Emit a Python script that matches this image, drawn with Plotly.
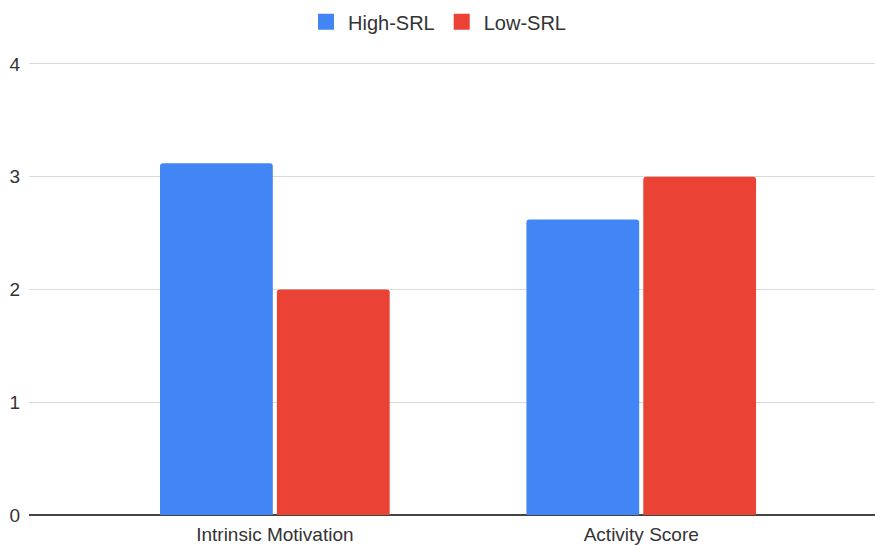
import plotly.graph_objects as go

# data
categories = ["Intrinsic Motivation", "Activity Score"]
high_srl = [3.12, 2.62]
low_srl = [2.0, 3.0]
series_names = ["High-SRL", "Low-SRL"]
colors = ["#4285F4", "#EA4335"]

fig = go.Figure()
fig.add_trace(go.Bar(x=categories, y=high_srl, name=series_names[0], showlegend=False,
                     marker=dict(color=colors[0], line=dict(width=0))))
fig.add_trace(go.Bar(x=categories, y=low_srl, name=series_names[1], showlegend=False,
                     marker=dict(color=colors[1], line=dict(width=0))))

# legend-only entries so the swatches are bigger squares like in Sheets
for name, col in zip(series_names, colors):
    fig.add_trace(go.Scatter(x=[None], y=[None], mode="markers", name=name,
                             marker=dict(symbol="square", size=18, color=col)))

fig.update_layout(
    width=875, height=545,
    margin=dict(l=29, r=0, t=60, b=30),
    paper_bgcolor="white", plot_bgcolor="white",
    font=dict(family="Liberation Sans, Arial, sans-serif", size=19, color="#333333"),
    barmode="group", bargap=0.362, bargroupgap=0.035, barcornerradius=3,
    legend=dict(orientation="h", xref="container", yref="container", x=0.5, y=0.96,
                xanchor="center", yanchor="middle", itemsizing="trace", itemwidth=34,
                font=dict(size=20, color="#333333")),
    showlegend=True,
)
fig.update_xaxes(range=[-0.671, 1.638], showgrid=False, showline=False, ticks="",
                 ticklabelstandoff=6, automargin=False)
fig.update_yaxes(range=[0, 4.035], tickvals=[0, 1, 2, 3, 4], showgrid=True, gridcolor="#d9d9d9", gridwidth=1,
                 zeroline=True, zerolinecolor="#444444", zerolinewidth=2, showline=False,
                 ticks="", ticklabelstandoff=8, automargin=False)

fig.write_html("out.html", config={"displayModeBar": False},
               post_script="document.body.style.margin='0';")
